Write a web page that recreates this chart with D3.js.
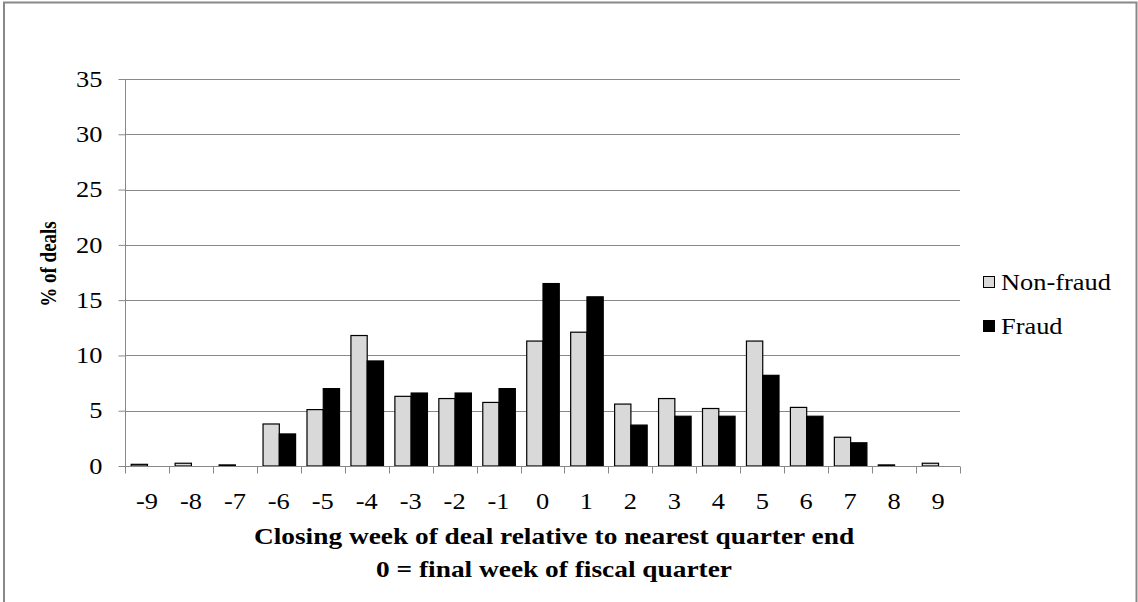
<!DOCTYPE html>
<html>
<head>
<meta charset="utf-8">
<script src="https://cdn.jsdelivr.net/npm/d3@7"></script>
<style>
  html, body { margin: 0; padding: 0; background: #fff; }
  svg { display: block; }
  text { font-family: "Liberation Serif", "Times New Roman", serif; fill: #000; }
</style>
</head>
<body>
<svg id="chart" width="1138" height="602"></svg>
<script>
const categories = ["-9","-8","-7","-6","-5","-4","-3","-2","-1","0","1","2","3","4","5","6","7","8","9"];
const seriesNames = ["Non-fraud", "Fraud"];
const nonFraud = [0.15, 0.25, 0.1, 3.8, 5.1, 11.8, 6.3, 6.1, 5.75, 11.3, 12.1, 5.6, 6.1, 5.2, 11.3, 5.3, 2.6, 0.1, 0.25];
const fraud    = [0, 0, 0, 2.9, 7.0, 9.5, 6.6, 6.6, 7.0, 16.5, 15.3, 3.7, 4.5, 4.5, 8.2, 4.5, 2.1, 0, 0];
const yTicks = [0, 5, 10, 15, 20, 25, 30, 35];
const yTitle = "% of deals";
const xTitle1 = "Closing week of deal relative to nearest quarter end";
const xTitle2 = "0 = final week of fiscal quarter";

const colors = {"Non-fraud": "#d9d9d9", "Fraud": "#000000"};
const gridColor = "#888888";
const SX = 1.1;    // the source picture is slightly stretched horizontally
const SXT = 1.19;  // stretch for the bold axis title

const svg = d3.select("#chart");
svg.append("rect").attr("width", 1138).attr("height", 602).attr("fill", "#fff");
// outer border (bottom edge outside the view)
svg.append("rect").attr("x", 4).attr("y", 2.5).attr("width", 1132.5).attr("height", 640)
  .attr("fill", "none").attr("stroke", gridColor).attr("stroke-width", 2);

const pLeft = 125, pRight = 960, pTop = 79, pBottom = 466;

const x0 = d3.scaleBand().domain(categories).range([pLeft, pRight]).paddingInner(0).paddingOuter(0);
const x1 = d3.scaleBand().domain(seriesNames).range([0, x0.bandwidth()]).paddingInner(0).paddingOuter(0.35);
const y = d3.scaleLinear().domain([0, 35]).range([pBottom, pTop]);

// gridlines
svg.append("g").selectAll("line").data(yTicks.filter(d => d > 0)).join("line")
  .attr("x1", pLeft).attr("x2", pRight)
  .attr("y1", d => Math.round(y(d)) + 0.5).attr("y2", d => Math.round(y(d)) + 0.5)
  .attr("stroke", gridColor).attr("stroke-width", 1);

// y axis
const yAxis = d3.axisLeft(y).tickValues(yTicks).tickSize(7).tickPadding(16);
const gy = svg.append("g").attr("transform", `translate(${pLeft + 0.5},0)`).call(yAxis);
gy.selectAll("line, path").attr("stroke", gridColor);
gy.select(".domain").attr("d", `M0,${pTop}V${pBottom}`);
gy.selectAll("text")
  .attr("font-size", 24).attr("fill", "#000")
  .attr("x", -23 / SX).attr("dy", "0.3em")
  .attr("transform", `scale(${SX},1)`);

// bars
const rows = categories.map((c, i) => ({cat: c, values: [
  {name: "Non-fraud", v: nonFraud[i]}, {name: "Fraud", v: fraud[i]}]}));
const groups = svg.append("g").selectAll("g").data(rows).join("g")
  .attr("transform", d => `translate(${x0(d.cat)},0)`);
groups.selectAll("rect").data(d => d.values.filter(e => e.v > 0)).join("rect")
  .attr("x", d => x1(d.name) + 0.5)
  .attr("y", d => y(d.v))
  .attr("width", x1.bandwidth())
  .attr("height", d => y(0) - y(d.v))
  .attr("fill", d => colors[d.name])
  .attr("stroke", "#000").attr("stroke-width", 1.2);

// x axis
const gx = svg.append("g").attr("transform", `translate(0,${Math.round(pBottom) + 0.5})`);
gx.append("line").attr("x1", pLeft).attr("x2", pRight).attr("stroke", gridColor);
const boundaries = categories.map(c => x0(c)).concat([pRight]);
gx.selectAll("line.tk").data(boundaries).join("line").attr("class", "tk")
  .attr("x1", d => Math.round(d) + 0.5).attr("x2", d => Math.round(d) + 0.5)
  .attr("y1", 0).attr("y2", 7).attr("stroke", gridColor);
gx.selectAll("text").data(categories).join("text")
  .attr("transform", d => `translate(${x0(d) + x0.bandwidth() / 2},42) scale(${SX},1)`)
  .attr("text-anchor", "middle")
  .attr("font-size", 24)
  .text(d => d);

// axis titles
svg.append("text").attr("transform", "translate(56,264) rotate(-90) scale(1,1.2)")
  .attr("text-anchor", "middle").attr("font-size", 19).attr("font-weight", "bold").text(yTitle);
svg.append("text").attr("transform", `translate(554,544) scale(${SXT},1)`).attr("text-anchor", "middle")
  .attr("font-size", 23).attr("font-weight", "bold").text(xTitle1);
svg.append("text").attr("transform", `translate(554,577) scale(${SXT},1)`).attr("text-anchor", "middle")
  .attr("font-size", 23).attr("font-weight", "bold").text(xTitle2);

// legend
const legend = svg.append("g").selectAll("g").data(seriesNames).join("g")
  .attr("transform", (d, i) => `translate(983,${276 + i * 44})`);
legend.append("rect").attr("x", 0.5).attr("y", 0.5).attr("width", 11).attr("height", 11)
  .attr("fill", d => colors[d]).attr("stroke", "#000").attr("stroke-width", 1);
legend.append("text").attr("transform", `translate(18,14) scale(${SX},1)`)
  .attr("font-size", 24).text(d => d);
</script>
</body>
</html>
